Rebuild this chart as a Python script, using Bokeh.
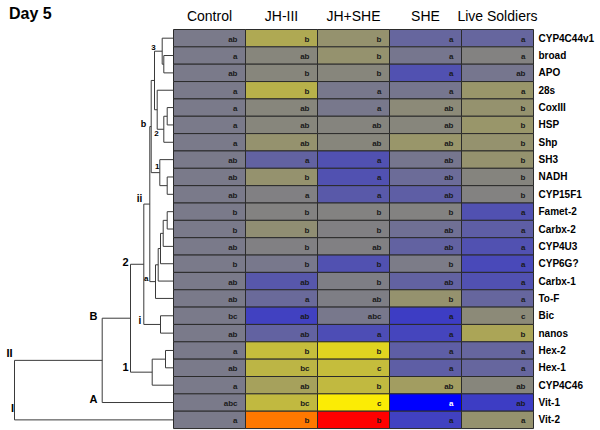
from bokeh.plotting import figure
from bokeh.models import Range1d
from bokeh.embed import file_html
from bokeh.resources import INLINE
from bokeh.core.properties import value

# ---------------- data ----------------
title = "Day 5"
treatments = ["Control", "JH-III", "JH+SHE", "SHE", "Live Soldiers"]
genes = ["CYP4C44v1", "broad", "APO", "28s", "CoxIII", "HSP", "Shp", "SH3",
         "NADH", "CYP15F1", "Famet-2", "Carbx-2", "CYP4U3", "CYP6G?", "Carbx-1",
         "To-F", "Bic", "nanos", "Hex-2", "Hex-1", "CYP4C46", "Vit-1", "Vit-2"]

# relative expression (log scale, 0 = control level; <0 blue, >0 yellow/red)
expr_control = [0, 0, 0, 0, 0, 0, 0, 0, 0, 0, 0, 0, 0, 0, 0, 0, 0, 0, 0, 0, 0, 0, 0]
expr_jh = [1.2, 0.3, 0.3, 1.4, 0.3, 0.3, 0.6, -0.6, 0.6, 0.15, 0.2, 0.5,
           0.15, -0.05, -0.85, -0.4, -1.4, -0.6, 1.7, 1.5, 1.0, 1.6, 4.5]
expr_jhshe = [0.6, 0.6, 0.3, -0.05, -0.05, 0.25, 0.3, -1.0, -1.0, -0.8, 0.2, 0.15,
              0.15, -1.0, 0.1, 0.1, -0.05, -1.1, 2.3, 1.7, 1.6, 2.9, 6.0]
expr_she = [-0.5, -0.1, -1.0, -0.1, 0.4, 0.3, 0.7, -0.1, -0.35, -0.7, 0.2, -0.25,
            -0.6, 0.05, -0.6, 0.6, -1.5, -1.3, -0.7, -0.7, 0.9, -3.0, -1.4]
expr_live = [-0.5, 0.2, -0.1, 0.7, 0.6, 0.7, 0.6, 0.6, 0.25, 0.2, -1.0, -0.7,
             -1.0, -1.2, -1.0, -0.5, 0.4, 1.1, -0.5, -0.5, 0.3, -1.5, 0.6]

# significance letters
let_control = ["ab", "a", "ab", "a", "a", "a", "a", "ab", "ab", "ab", "b", "b", "ab",
               "b", "ab", "ab", "bc", "ab", "a", "ab", "a", "abc", "a"]
let_jh = ["b", "ab", "b", "b", "ab", "ab", "ab", "a", "b", "a", "b", "b", "b",
          "b", "ab", "a", "ab", "ab", "b", "bc", "ab", "bc", "b"]
let_jhshe = ["b", "b", "b", "a", "a", "ab", "ab", "a", "a", "a", "b", "b", "ab",
             "b", "b", "ab", "abc", "a", "b", "c", "b", "c", "b"]
let_she = ["a", "a", "a", "a", "ab", "ab", "ab", "ab", "ab", "ab", "b", "ab", "ab",
           "b", "ab", "b", "a", "a", "a", "a", "ab", "a", "a"]
let_live = ["a", "a", "ab", "a", "b", "b", "b", "b", "b", "b", "a", "a", "a",
            "a", "a", "a", "c", "b", "a", "a", "ab", "ab", "a"]

# dendrogram merges: (node, left child, right child, linkage distance)
merges = [
    ("n_a", "broad", "APO", 9.7),
    ("n_3", "CYP4C44v1", "n_a", 11.3),
    ("n_45", "CoxIII", "HSP", 6.3),
    ("n_456", "n_45", "Shp", 9.7),
    ("n_2s", "28s", "n_456", 16.3),
    ("n_32", "n_3", "n_2s", 19.0),
    ("n_89", "NADH", "CYP15F1", 6.3),
    ("n_1s", "SH3", "n_89", 13.7),
    ("n_b", "n_32", "n_1s", 22.3),
    ("n_1011", "Famet-2", "Carbx-2", 6.3),
    ("n_c12", "n_1011", "CYP4U3", 10.3),
    ("n_c13", "n_c12", "CYP6G?", 13.0),
    ("n_c14", "n_c13", "Carbx-1", 15.3),
    ("n_acl", "n_c14", "To-F", 18.0),
    ("n_ii", "n_b", "n_acl", 23.7),
    ("n_i", "Bic", "nanos", 13.0),
    ("n_iii", "n_ii", "n_i", 29.7),
    ("n_1819", "Hex-2", "Hex-1", 8.0),
    ("n_low1", "n_1819", "CYP4C46", 21.3),
    ("n_2top", "n_iii", "n_low1", 43.0),
    ("n_B", "n_2top", "Vit-1", 71.3),
    ("root", "n_B", "Vit-2", 159.0),
]

# cluster labels: (text, node, dx px, dy px, font size)
cluster_labels = [
    ("3", "n_3", -8.7, -3.7, "8px"),
    ("2", "n_456", -7.3, 4.3, "8px"),
    ("1", "n_1s", -2.6, -6.4, "8px"),
    ("b", "n_b", -7.7, -3.0, "9px"),
    ("ii", "n_ii", -10.3, -5.6, "10px"),
    ("a", "n_acl", -9.3, -3.2, "8px"),
    ("i", "n_i", -20.7, -4.0, "10px"),
    ("2", "n_iii", -18.3, -2.5, "11px"),
    ("1", "n_low1", -26.7, -5.1, "11px"),
    ("B", "n_2top", -37.0, -2.6, "11px"),
    ("A", "Vit-1", -80.0, -4.0, "11px"),
    ("II", "root", -5.0, -37.0, "11px"),
    ("I", "root", -2.0, 18.0, "11px"),
]

# ---------------- colour scale ----------------
GRAY = (122, 122, 138)
BLUE = (0, 0, 255)
YEL = (255, 240, 0)
RED = (255, 0, 0)


def colour(v):
    if v < 0:
        t, a, b = min(-v / 3.0, 1.0), GRAY, BLUE
    elif v <= 3:
        t, a, b = v / 3.0, GRAY, YEL
    else:
        t, a, b = min((v - 3) / 3.0, 1.0), YEL, RED
    return "#%02x%02x%02x" % tuple(int(round(a[i] + (b[i] - a[i]) * t)) for i in range(3))


# ---------------- layout ----------------
W, H = 600, 430
HM_LEFT, COL_W = 173, 72
TOP, ROW_H = 29, 17.35
FONT = "Liberation Sans"

p = figure(width=W, height=H, output_backend="svg", toolbar_location=None,
           x_range=Range1d(-HM_LEFT / COL_W, (W - HM_LEFT) / COL_W),
           y_range=Range1d((H - TOP) / ROW_H, -TOP / ROW_H),
           x_axis_location=None, y_axis_location=None, min_border=0,
           background_fill_color="white", border_fill_color="white")
p.outline_line_color = None
p.xgrid.visible = False
p.ygrid.visible = False
p.extra_x_ranges = {"dend": Range1d(HM_LEFT, HM_LEFT - W)}

# heatmap
exprs = [expr_control, expr_jh, expr_jhshe, expr_she, expr_live]
lets = [let_control, let_jh, let_jhshe, let_she, let_live]
xs, ys, cols, txt, tcol = [], [], [], [], []
for ci, (ev, lv) in enumerate(zip(exprs, lets)):
    for ri, g in enumerate(genes):
        xs.append(ci)
        ys.append(ri)
        cols.append(colour(ev[ri]))
        txt.append(lv[ri])
        tcol.append("white" if ev[ri] <= -2.5 else "#1a1a1a")

p.rect(x=[x + 0.5 for x in xs], y=[y + 0.5 for y in ys], width=1, height=1,
       fill_color=cols, line_color="#2b2b2b", line_width=1)
p.text(x=[x + 1 for x in xs], y=[y + 0.5 for y in ys], text=txt, x_offset=-8, y_offset=1,
       text_align="right", text_baseline="middle", text_font=value(FONT),
       text_font_size="8px", text_font_style="bold", text_color=tcol)

# column headers
p.text(x=[i + 0.5 for i in range(len(treatments))], y=[-0.8] * len(treatments),
       text=treatments, text_align="center", text_baseline="middle",
       text_font=value(FONT), text_font_size="14px", text_color="black")

# title
p.text(x=[-HM_LEFT / COL_W], y=[-0.95], text=[title], x_offset=8.5,
       text_align="left", text_baseline="middle", text_font=value(FONT),
       text_font_size="16px", text_font_style="bold", text_color="black")

# row labels
p.text(x=[len(treatments)] * len(genes), y=[i + 0.5 for i in range(len(genes))],
       text=genes, x_offset=5, text_align="left", text_baseline="middle",
       text_font=value(FONT), text_font_size="10px", text_font_style="bold",
       text_color="black")

# dendrogram
ny = {g: i + 0.5 for i, g in enumerate(genes)}
nd = {g: 0.0 for g in genes}
x0, y0, x1, y1 = [], [], [], []
for name, l, r, h in merges:
    for c in (l, r):
        x0.append(nd[c]); y0.append(ny[c]); x1.append(h); y1.append(ny[c])
    x0.append(h); y0.append(ny[l]); x1.append(h); y1.append(ny[r])
    ny[name] = (ny[l] + ny[r]) / 2.0
    nd[name] = h
p.segment(x0=x0, y0=y0, x1=x1, y1=y1, line_color="#3a3a3a", line_width=1,
          x_range_name="dend")

for t, node, dx, dy, fs in cluster_labels:
    p.text(x=[nd[node]], y=[ny[node]], text=[t], x_offset=dx, y_offset=dy,
           text_align="center", text_baseline="middle", text_font=value(FONT),
           text_font_size=fs, text_font_style="bold", text_color="black",
           x_range_name="dend")

open("out.html", "w").write(file_html(p, INLINE))
